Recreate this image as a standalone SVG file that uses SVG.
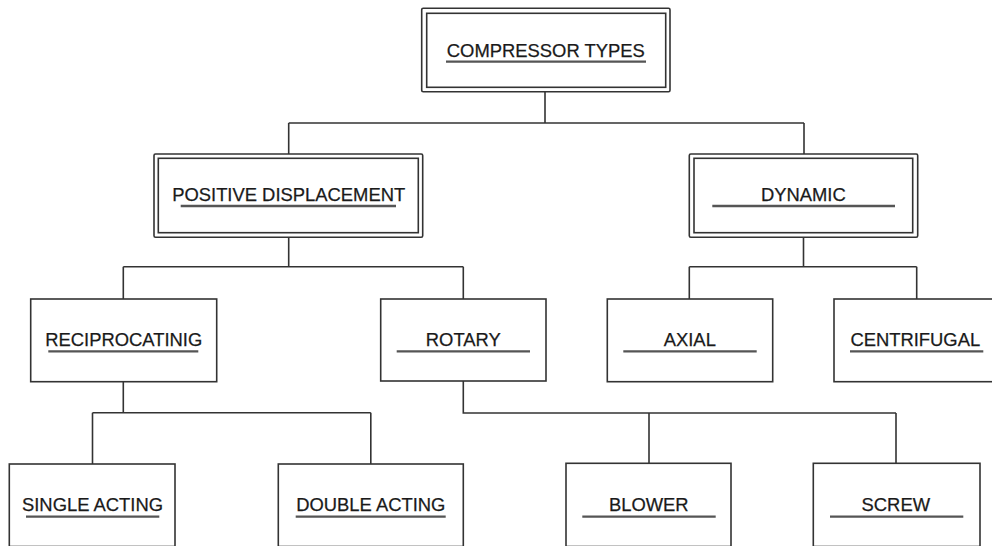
<svg xmlns="http://www.w3.org/2000/svg" width="992" height="546" viewBox="0 0 992 546">
<style>
.box{fill:#fff;stroke:#333;stroke-width:1.6}
.inner{fill:none;stroke:#333;stroke-width:1.6}
.lbl{font-family:"Liberation Sans",Arial,sans-serif;font-size:18.4px;fill:#1a1a1a;stroke:#1a1a1a;stroke-width:0.25;text-anchor:middle}
.ul{stroke:#555;stroke-width:2.3;fill:none}
.con{stroke:#333;stroke-width:1.6;fill:none}
</style>
<rect width="992" height="546" fill="#fff"/>
<g id="connectors">
<path class="con" d="M545,92 V123 M288.7,123 H804 M288.7,123 V154 M804,123 V154"/>
<path class="con" d="M288.7,237.3 V266.7 M123.3,266.7 H463.3 M123.3,266.7 V299 M463.3,266.7 V299"/>
<path class="con" d="M803.5,237.3 V266.7 M689.3,266.7 H916.7 M689.3,266.7 V299 M916.7,266.7 V299"/>
<path class="con" d="M123.3,381.7 V412.7 M92.5,412.7 H370.8 M92.5,412.7 V464 M370.8,412.7 V464"/>
<path class="con" d="M463.3,381 V413 H896 M649,413 V463.3 M896,413 V463.3"/>
</g>
<g id="compressor-types">
<rect class="box" x="421.7" y="8.3" width="248.3" height="83.4" rx="1.5"/>
<rect class="inner" x="426.7" y="13.3" width="239" height="74"/>
<text class="lbl" x="545.8" y="56.7">COMPRESSOR TYPES</text>
<line class="ul" x1="446" y1="61.7" x2="646" y2="61.7"/>
</g>
<g id="positive-displacement">
<rect class="box" x="154" y="154" width="268.7" height="83.3" rx="1.5"/>
<rect class="inner" x="158.3" y="158.3" width="260" height="74.4"/>
<text class="lbl" x="288.7" y="201">POSITIVE DISPLACEMENT</text>
<line class="ul" x1="180.7" y1="206" x2="396" y2="206"/>
</g>
<g id="dynamic">
<rect class="box" x="689.3" y="154" width="228.4" height="83.3" rx="1.5"/>
<rect class="inner" x="694" y="158.3" width="218.7" height="74.4"/>
<text class="lbl" x="803.3" y="200.7">DYNAMIC</text>
<line class="ul" x1="712.3" y1="206" x2="895" y2="206"/>
</g>
<g id="reciprocating">
<rect class="box" x="30.7" y="299" width="186" height="82.7"/>
<text class="lbl" x="123.7" y="346">RECIPROCATINIG</text>
<line class="ul" x1="48.3" y1="351.3" x2="198.3" y2="351.3"/>
</g>
<g id="rotary">
<rect class="box" x="380.7" y="299" width="165.3" height="82"/>
<text class="lbl" x="463.3" y="346">ROTARY</text>
<line class="ul" x1="396.7" y1="351.3" x2="530" y2="351.3"/>
</g>
<g id="axial">
<rect class="box" x="607.3" y="299" width="165.4" height="82.7"/>
<text class="lbl" x="689.8" y="346">AXIAL</text>
<line class="ul" x1="623.3" y1="351.3" x2="756.7" y2="351.3"/>
</g>
<g id="centrifugal">
<rect class="box" x="834" y="299" width="170" height="82.7"/>
<text class="lbl" x="915.3" y="346">CENTRIFUGAL</text>
<line class="ul" x1="850" y1="351.3" x2="983.3" y2="351.3"/>
</g>
<g id="single-acting">
<rect class="box" x="9.3" y="464" width="165.7" height="82.5"/>
<text class="lbl" x="92.5" y="511">SINGLE ACTING</text>
<line class="ul" x1="26" y1="516.7" x2="159.3" y2="516.7"/>
</g>
<g id="double-acting">
<rect class="box" x="278.3" y="464" width="185" height="82.5"/>
<text class="lbl" x="370.8" y="511">DOUBLE ACTING</text>
<line class="ul" x1="295.7" y1="516.7" x2="445.7" y2="516.7"/>
</g>
<g id="blower">
<rect class="box" x="566" y="463.3" width="165" height="83.2"/>
<text class="lbl" x="648.8" y="511">BLOWER</text>
<line class="ul" x1="582.3" y1="516.7" x2="715.7" y2="516.7"/>
</g>
<g id="screw">
<rect class="box" x="813.3" y="463.3" width="166.7" height="83.2"/>
<text class="lbl" x="895.8" y="511">SCREW</text>
<line class="ul" x1="830" y1="516.7" x2="963.3" y2="516.7"/>
</g>
</svg>
